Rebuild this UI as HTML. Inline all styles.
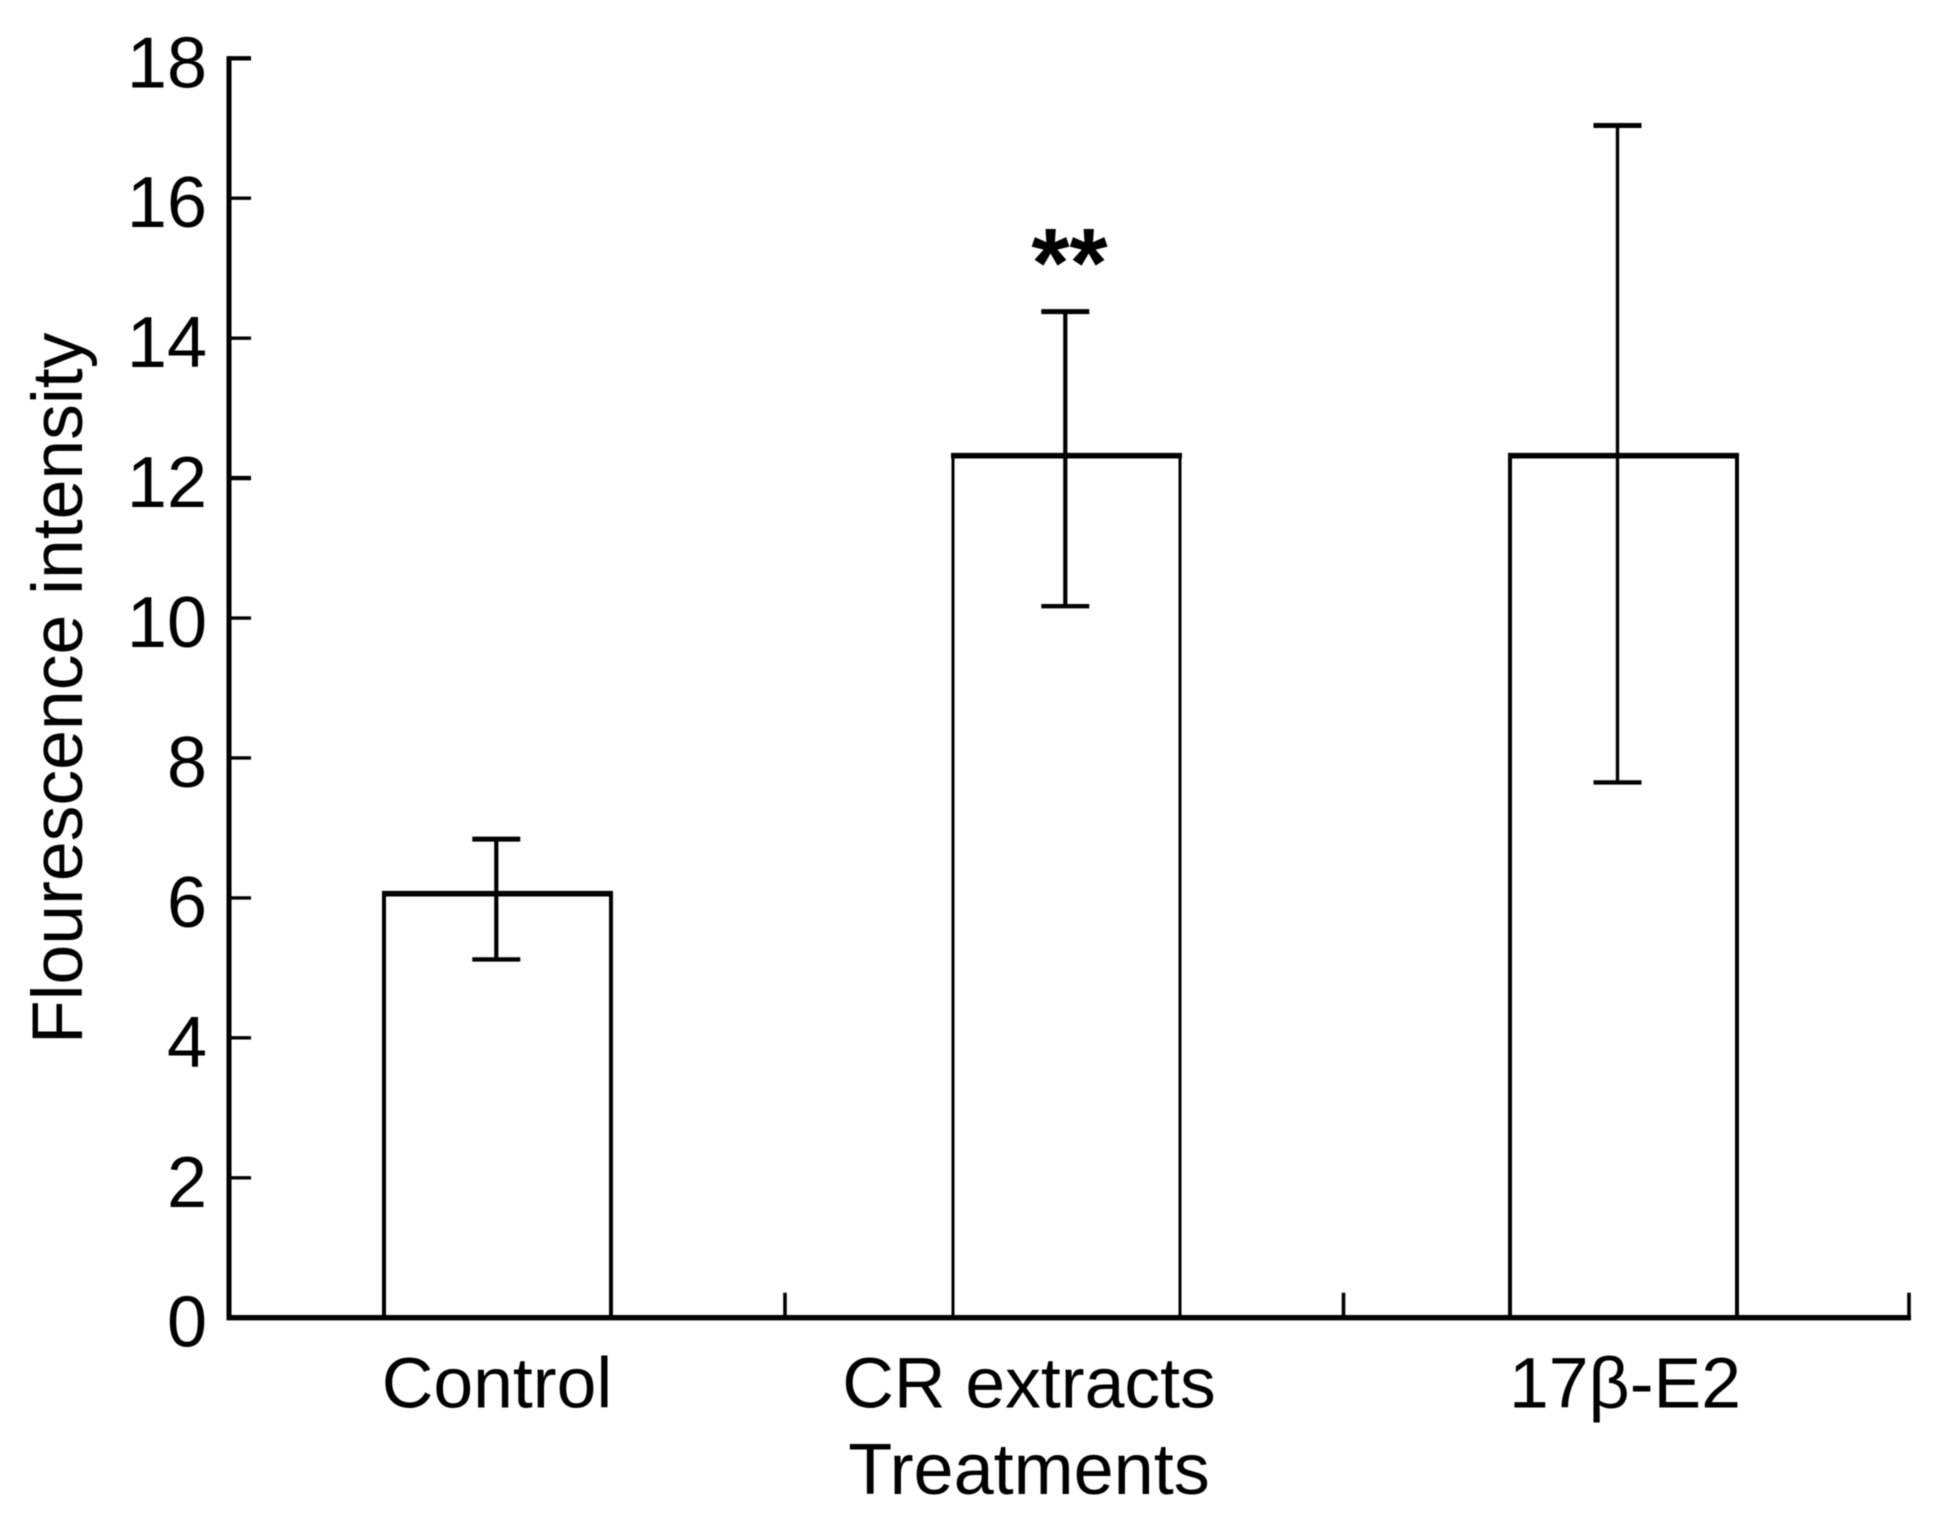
<!DOCTYPE html>
<html lang="en">
<head>
<meta charset="utf-8">
<title>Flourescence intensity by treatment</title>
<style>
html,body{margin:0;padding:0;background:#fff;}
body{width:1936px;height:1516px;overflow:hidden;}
svg{display:block;filter:blur(0.6px);}
text{font-family:"Liberation Sans",sans-serif;fill:#000;}
</style>
</head>
<body>
<svg id="chart" xmlns="http://www.w3.org/2000/svg" width="1936" height="1516" viewBox="0 0 1936 1516">
  <rect x="0" y="0" width="1936" height="1516" fill="#fff"/>
  <text transform="translate(82 1044) rotate(-90)" font-size="71.5">Flourescence intensity</text>
  <text x="1029" y="1494" font-size="72" text-anchor="middle">Treatments</text>
</svg>
<script>
const categories = ['Control', 'CR extracts', '17β-E2'];
const meanValues = [6.06, 12.32, 12.32];
const errorHigh = [6.84, 14.38, 17.04];
const errorLow = [5.12, 10.17, 7.65];
const yTickLabels = [0, 2, 4, 6, 8, 10, 12, 14, 16, 18];
const significance = ['', '**', ''];

const svg = document.getElementById('chart');
const NS = 'http://www.w3.org/2000/svg';

const AXIS_LEFT = 229;
const AXIS_RIGHT = 1909;
const Y_ZERO = 1317.7;
const Y_TOP = 58.3;
const Y_MAX = 18;
const BAR_WIDTH = 227;
const CAP_HALF = 24;

function yScale(v) {
  return Y_ZERO - (v / Y_MAX) * (Y_ZERO - Y_TOP);
}
function xCenter(i) {
  const drift = i === 1 ? 6 : 0;
  return 497.5 + 563 * i + drift;
}
function errorCenter(i) {
  const drift = i === 2 ? -6 : -1.2;
  return xCenter(i) + drift;
}
function labelCenter(i) {
  const drift = i === 1 ? -32 : 0;
  return 497 + 564 * i + drift;
}
function xBoundary(i) {
  return AXIS_LEFT + (i === 3 ? AXIS_RIGHT - AXIS_LEFT : 556 * i + (i === 2 ? 2.5 : 0));
}

function make(tag, parent, attrs) {
  const el = document.createElementNS(NS, tag);
  Object.keys(attrs).forEach(function (k) { el.setAttribute(k, attrs[k]); });
  parent.appendChild(el);
  return el;
}
function seg(parent, x1, y1, x2, y2, w) {
  return make('line', parent, { x1: x1, y1: y1, x2: x2, y2: y2, stroke: '#000', 'stroke-width': w, 'stroke-linecap': 'butt' });
}

categories.forEach(function (name, i) {
  const group = make('g', svg, {});
  
  

  const cx = xCenter(i);
  const left = cx - BAR_WIDTH / 2;
  const right = cx + BAR_WIDTH / 2;
  const top = yScale(meanValues[i]);

  const bar = make('path', group, {
    d: 'M' + left + ' ' + Y_ZERO + 'V' + top + 'H' + right + 'V' + Y_ZERO,
    fill: '#fff', stroke: '#000', 'stroke-width': i === 1 ? 3 : 4
  });
  
  

  const barTop = seg(group, left - 2, top, right + 2, top, 5.6);
  
  

  const ex = errorCenter(i);
  const hi = yScale(errorHigh[i]);
  const lo = yScale(errorLow[i]);

  const stem = seg(group, ex, hi, ex, lo, i === 2 ? 3.4 : 4.2);
  
  

  const capTop = seg(group, ex - CAP_HALF, hi, ex + CAP_HALF, hi, 5);
  
  

  const capBottom = seg(group, ex - CAP_HALF, lo, ex + CAP_HALF, lo, 4.4);
  
  

  const label = make('text', svg, { x: labelCenter(i), y: 1407.7, 'font-size': 71.5, 'text-anchor': 'middle' });
  label.textContent = name;
  
  

  if (significance[i]) {
    const mark = make('text', svg, { x: cx + 3, y: 297, 'font-size': 98, 'font-weight': 'bold', 'text-anchor': 'middle' });
    mark.textContent = significance[i];
    
    
  }
});

const yAxis = seg(svg, AXIS_LEFT, Y_TOP - 2.2, AXIS_LEFT, Y_ZERO + 2, 5);



const xAxis = seg(svg, AXIS_LEFT - 2.5, Y_ZERO, AXIS_RIGHT + 2, Y_ZERO, 5.4);



yTickLabels.forEach(function (t) {
  const y = yScale(t);
  if (t !== 0) {
    const tick = seg(svg, AXIS_LEFT, y, AXIS_LEFT + 22, y, t === 18 || t === 12 ? 4.4 : 3.4);
    
    
  }
  const lab = make('text', svg, { x: 207, y: y + 29, 'font-size': 72, 'text-anchor': 'end' });
  lab.textContent = String(t);
  
  
});

[1, 2, 3].forEach(function (b) {
  const x = xBoundary(b);
  const tick = seg(svg, x, Y_ZERO, x, Y_ZERO - 25, 3.6);
  
  
});
</script>
</body>
</html>
